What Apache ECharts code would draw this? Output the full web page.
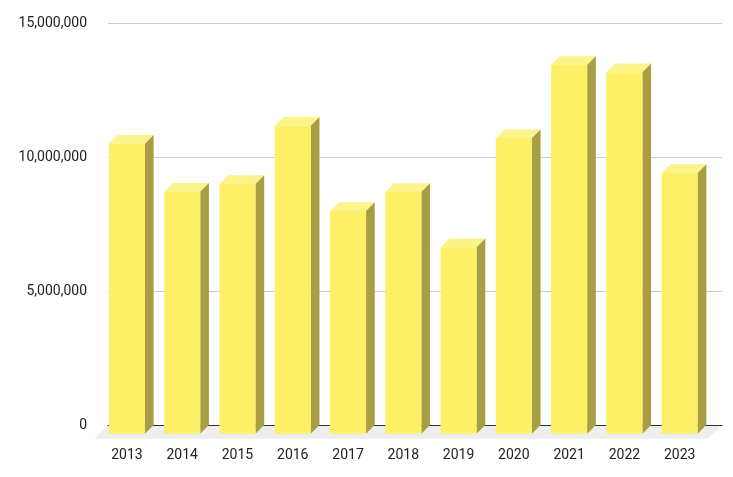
<!DOCTYPE html>
<html>
<head>
<meta charset="utf-8">
<script src="https://cdn.jsdelivr.net/npm/echarts@6/dist/echarts.min.js"></script>
<style>
  html, body { margin: 0; padding: 0; background: #fff; }
  #chart { width: 733px; height: 477px; }
</style>
</head>
<body>
<div id="chart"></div>
<script>
var years = ['2013', '2014', '2015', '2016', '2017', '2018', '2019', '2020', '2021', '2022', '2023']
var values = [10820000, 9030000, 9320000, 11490000, 8310000, 9020000, 6960000, 11030000, 13760000, 13490000, 9730000]
var yTicks = [0, 5000000, 10000000, 15000000]

var colors = ['#fdef66', '#fdf38b', '#a89f45', '#eeeeee']
var depth = 8.7

var chart = echarts.init(document.getElementById('chart'))

function fmt(v) {
    return String(v).replace(/\B(?=(\d{3})+(?!\d))/g, ',')
}

function renderBar(params, api) {
    var top = api.coord([api.value(0), api.value(1)])
    var base = api.coord([api.value(0), 0])
    var bw = api.size([1, 0])[0] * 0.652
    var bl = top[0] - bw / 2, br = bl + bw
    var fl = bl - depth, fr = br - depth
    var bt = top[1], ft = top[1] + depth
    var fb = base[1] + depth
    return {
        type: 'group',
        children: [
            {
                type: 'polygon',
                shape: { points: [[fl, ft], [fr, ft], [br, bt], [bl, bt]] },
                style: { fill: colors[1] }
            },
            {
                type: 'polygon',
                shape: { points: [[fr, ft], [br, bt], [br, base[1]], [fr, fb]] },
                style: { fill: colors[2] }
            },
            {
                type: 'rect',
                shape: { x: fl, y: ft, width: bw, height: fb - ft },
                style: { fill: colors[0] }
            }
        ]
    }
}

function renderFloor(params, api) {
    var cs = params.coordSys
    var y0 = cs.y + cs.height
    var d = 13.8
    return {
        type: 'polygon',
        shape: {
            points: [[cs.x, y0], [cs.x + cs.width, y0], [cs.x + cs.width - d, y0 + d], [cs.x - d, y0 + d]]
        },
        style: { fill: colors[3] }
    }
}

var option = {
    animation: false,
    textStyle: { fontFamily: 'Roboto' },
    grid: [
        { left: 108, right: 11, top: 23, bottom: 52 },
        { left: 108, right: 17, top: 23, bottom: 52 }
    ],
    xAxis: [
        {
            type: 'value',
            gridIndex: 0,
            min: 0,
            max: 1,
            z: 3,
            axisLine: { show: true, lineStyle: { color: '#333333', width: 1 } },
            axisTick: { show: false },
            axisLabel: { show: false },
            splitLine: { show: false }
        },
        {
            type: 'category',
            gridIndex: 1,
            data: years,
            axisLine: { show: false },
            axisTick: { show: false },
            axisLabel: {
                color: '#222222',
                fontSize: 14,
                margin: 23,
                padding: [0, depth * 2, 0, 0]
            },
            splitLine: { show: false }
        }
    ],
    yAxis: [
        {
            type: 'value',
            gridIndex: 0,
            min: yTicks[0],
            max: yTicks[yTicks.length - 1],
            interval: yTicks[1] - yTicks[0],
            axisLine: { show: false },
            axisTick: { show: false },
            axisLabel: {
                color: '#222222',
                fontSize: 14,
                margin: 21,
                formatter: fmt
            },
            splitLine: { show: true, lineStyle: { color: '#cccccc' } }
        },
        {
            type: 'value',
            gridIndex: 1,
            min: yTicks[0],
            max: yTicks[yTicks.length - 1],
            show: false,
            splitLine: { show: false }
        }
    ],
    series: [
        {
            type: 'custom',
            name: 'floor',
            xAxisIndex: 0,
            yAxisIndex: 0,
            z: 1,
            silent: true,
            renderItem: renderFloor,
            data: [[0, 0]]
        },
        {
            type: 'custom',
            name: 'bars',
            xAxisIndex: 1,
            yAxisIndex: 1,
            z: 4,
            renderItem: renderBar,
            encode: { x: 0, y: 1 },
            data: values.map(function (v, i) { return [i, v] })
        }
    ]
}

chart.setOption(option)
</script>
</body>
</html>
